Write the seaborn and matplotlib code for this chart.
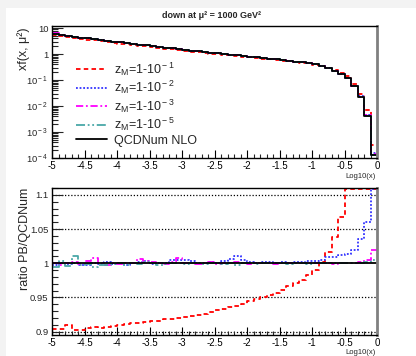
import numpy as np
import pandas as pd
import matplotlib
matplotlib.use("Agg")
import matplotlib.pyplot as plt
from matplotlib.patches import Rectangle
from matplotlib.ticker import MultipleLocator, LogLocator, FuncFormatter, NullFormatter
import seaborn as sns

sns.set_theme(style="white")
plt.rcParams["font.family"] = ["Liberation Sans", "DejaVu Sans"]
plt.rcParams["mathtext.fontset"] = "custom"
plt.rcParams["mathtext.rm"] = "Liberation Sans"
plt.rcParams["mathtext.it"] = "Liberation Sans:italic"
plt.rcParams["axes.unicode_minus"] = False

# ---------------- data ----------------
log10x_edges = np.round(np.linspace(-5.0, 0.0, 51), 2)

qcdnum_nlo = [6.17, 5.62, 5.13, 4.68, 4.32, 3.98, 3.72, 3.47, 3.20, 2.99,
              2.79, 2.62, 2.45, 2.30, 2.16, 2.02, 1.88, 1.76, 1.64, 1.53,
              1.44, 1.35, 1.27, 1.20, 1.13, 1.06, 1.00, 0.944, 0.889, 0.838,
              0.789, 0.743, 0.700, 0.659, 0.621, 0.583, 0.547, 0.513, 0.481, 0.451,
              0.40, 0.35, 0.29, 0.23, 0.17, 0.123, 0.060, 0.023, 0.0043, 0.000135]

ratio_zm1 = [0.904, 0.904, 0.910, 0.902, 0.902, 0.905, 0.906, 0.905, 0.907, 0.908,
             0.910, 0.911, 0.912, 0.913, 0.914, 0.915, 0.916, 0.918, 0.918, 0.920,
             0.921, 0.923, 0.924, 0.926, 0.928, 0.931, 0.933, 0.936, 0.938, 0.941,
             0.944, 0.947, 0.950, 0.954, 0.957, 0.961, 0.966, 0.971, 0.975, 0.983,
             0.990, 1.0015, 1.016, 1.038, 1.068, 1.13, 1.18, 1.25, 1.7, 2.4]

ratio_zm2 = [0.998, 1.001, 0.999, 1.000, 0.997, 0.998, 1.001, 0.999, 1.002, 0.999,
             1.000, 0.998, 1.001, 1.002, 1.003, 0.999, 1.000, 1.001, 1.004, 1.004,
             1.004, 1.003, 1.001, 1.000, 1.002, 1.001, 1.003, 1.006, 1.010, 1.004,
             1.002, 1.001, 1.002, 1.002, 1.001, 1.002, 1.001, 1.002, 1.002, 1.003,
             1.003, 1.004, 1.009, 1.009, 1.012, 1.013, 1.020, 1.035, 1.061, 1.15]

ratio_zm3 = [1.001, 0.998, 1.000, 1.002, 0.999, 1.003, 1.007, 1.001, 0.998, 1.000,
             0.999, 1.001, 1.000, 1.006, 1.003, 1.002, 1.000, 0.999, 1.002, 1.008,
             1.001, 1.000, 0.999, 1.001, 1.002, 0.999, 1.000, 1.001, 1.002, 1.000,
             0.999, 1.001, 1.000, 1.000, 0.999, 1.001, 1.000, 1.000, 1.001, 1.000,
             1.001, 1.000, 1.000, 0.999, 1.000, 1.001, 1.001, 1.002, 1.005, 1.020]

ratio_zm5 = [0.995, 1.003, 0.996, 1.010, 0.997, 0.999, 0.994, 0.998, 0.997, 0.999,
             1.001, 0.998, 1.000, 0.999, 1.002, 1.001, 0.998, 0.999, 1.001, 1.000,
             0.999, 1.000, 1.001, 0.999, 1.000, 1.000, 0.999, 1.000, 0.998, 1.000,
             1.001, 0.999, 1.000, 1.000, 1.001, 1.000, 0.999, 1.000, 1.000, 0.999,
             1.000, 1.001, 1.000, 1.000, 1.000, 1.001, 1.000, 1.001, 1.002, 1.004]

series_labels = [r"z$_{\rm M}$=1-10$^{\rm -1}$", r"z$_{\rm M}$=1-10$^{\rm -2}$",
                 r"z$_{\rm M}$=1-10$^{\rm -3}$", r"z$_{\rm M}$=1-10$^{\rm -5}$"]
series_ratios = [ratio_zm1, ratio_zm2, ratio_zm3, ratio_zm5]
series_colors = ["#ff0000", "#3333ff", "#ff00ff", "#4aa8a8"]
series_styles = [(0, (2.5, 1.8)), (0, (1, 1)), (0, (4, 1.5, 1, 1.5)), (0, (5, 1.5, 1, 1.5, 1, 1.5))]
qcd_label = "QCDNum NLO"

W, H = 416, 356
fig = plt.figure(figsize=(W / 100, H / 100), dpi=100)
fig.patch.set_facecolor("#f3f3f3")
fig.patches.append(Rectangle((6 / W, 0), 1, 1 - 8 / H, transform=fig.transFigure,
                             facecolor="white", edgecolor="none", zorder=-5))

def px_axes(l, t, r, b):
    return fig.add_axes([l / W, 1 - b / H, (r - l) / W, (b - t) / H])

ax1 = px_axes(52, 26, 377, 158)
ax2 = px_axes(52, 188, 377, 335)

def steps(ax, vals, **kw):
    y = list(vals) + [vals[-1]]
    df = pd.DataFrame({"x": log10x_edges, "y": y})
    sns.lineplot(data=df, x="x", y="y", ax=ax, drawstyle="steps-post",
                 estimator=None, sort=False, **kw)

qcd = np.array(qcdnum_nlo)
for lab, r, c, ls in zip(series_labels, series_ratios, series_colors, series_styles):
    steps(ax1, qcd * np.array(r), color=c, linestyle=ls, lw=1.3, label=lab)
steps(ax1, qcd, color="black", lw=1.3, label=qcd_label)

ymax2 = 1.108
for lab, r, c, ls in zip(series_labels, series_ratios, series_colors, series_styles):
    steps(ax2, np.minimum(np.array(r), ymax2), color=c, linestyle=ls, lw=1.3)
steps(ax2, qcd / qcd, color="black", lw=1.3)

# ---------------- axes styling ----------------
for ax in (ax1, ax2):
    ax.set_facecolor("white")
    ax.set_xlim(-5, 0)
    ax.set_xlabel("")
    ax.set_ylabel("")
    ax.xaxis.set_major_locator(MultipleLocator(0.5))
    ax.xaxis.set_minor_locator(MultipleLocator(0.1))
    ax.xaxis.set_major_formatter(FuncFormatter(lambda v, p: "%g" % round(v, 2)))
    ax.tick_params(axis="x", which="major", direction="in", length=6, width=0.8,
                   labelsize=7, pad=2.5, colors="black", bottom=True, top=False)
    ax.tick_params(axis="x", which="minor", direction="in", length=3, width=0.8,
                   bottom=True, top=False)
    ax.tick_params(axis="y", which="major", direction="in", length=8, width=0.8,
                   labelsize=6.8, pad=2.5, left=True, right=False)
    ax.tick_params(axis="y", which="minor", direction="in", length=4, width=0.8,
                   left=True, right=False)
    for s in ("left", "bottom", "top"):
        ax.spines[s].set_color("black")
        ax.spines[s].set_linewidth(1.0)
        ax.spines[s].set_visible(True)
    ax.spines["right"].set_color("#808080")
    ax.spines["right"].set_linewidth(2.0)
    ax.spines["right"].set_visible(True)

fig.text(376 / W, 1 - 176 / H, "Log10(x)", ha="right", va="center", fontsize=5.5)
fig.text(376 / W, 1 - 352 / H, "Log10(x)", ha="right", va="center", fontsize=5.5)

ax1.set_yscale("log")
ax1.set_ylim(1e-4, 12)
ax1.yaxis.set_major_locator(LogLocator(base=10, numticks=10))
ax1.yaxis.set_minor_locator(LogLocator(base=10, subs=np.arange(2, 10), numticks=20))
ax1.yaxis.set_minor_formatter(NullFormatter())

def logfmt(v, p):
    e = int(round(np.log10(v)))
    if e == 1:
        return "10"
    if e == 0:
        return "1"
    return r"10$^{\rm %d}$" % e
ax1.yaxis.set_major_formatter(FuncFormatter(logfmt))

ax2.set_ylim(0.895, 1.11)
ax2.yaxis.set_major_locator(MultipleLocator(0.05))
ax2.yaxis.set_minor_locator(MultipleLocator(0.01))
ax2.yaxis.set_major_formatter(FuncFormatter(lambda v, p: "%g" % round(v, 3)))
for gy in (0.9, 0.95, 1.05, 1.1):
    ax2.axhline(gy, color="black", lw=0.9, linestyle=(0, (1, 1.5)), zorder=0.5)

leg = ax1.legend(loc="upper left", bbox_to_anchor=(0.074, 0.74), frameon=False,
                 fontsize=9, handlelength=2.5, handletextpad=0.55, labelspacing=0.1,
                 borderpad=0, borderaxespad=0)

fig.text(212 / W, 1 - 16 / H, "down at μ² = 1000 GeV²", ha="center", va="center",
         fontsize=6.5, fontweight="bold")
fig.text(24 / W, 1 - 27 / H, "xf(x, μ²)", rotation=90, ha="center", va="top", fontsize=9)
fig.text(25 / W, 1 - 188 / H, "ratio PB/QCDNum", rotation=90, ha="center", va="top", fontsize=9)

fig.savefig("out.png", dpi=100)
